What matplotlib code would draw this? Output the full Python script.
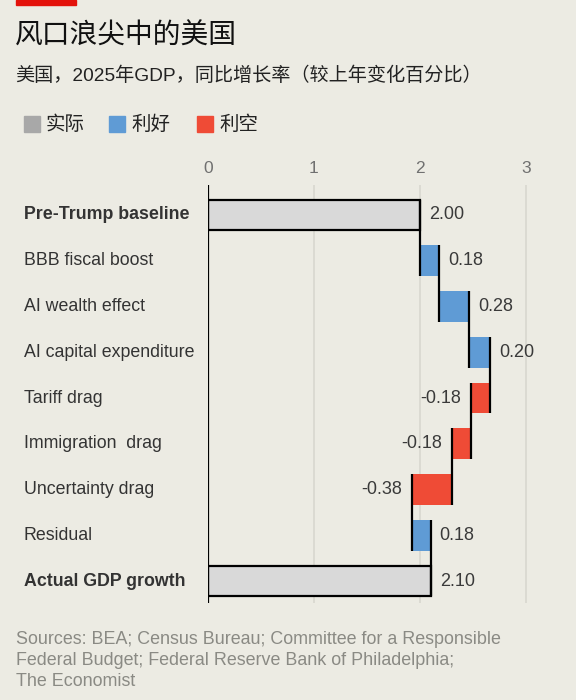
import numpy as np
import matplotlib.pyplot as plt
from matplotlib.patches import Rectangle

# data
categories = ["Pre-Trump baseline", "BBB fiscal boost", "AI wealth effect",
              "AI capital expenditure", "Tariff drag", "Immigration  drag",
              "Uncertainty drag", "Residual", "Actual GDP growth"]
baseline = 2.00
deltas = [0.18, 0.28, 0.20, -0.18, -0.18, -0.38, 0.18]
actual = 2.10
xticks = [0, 1, 2, 3]
legend_labels = ["实际", "利好", "利空"]

bg = "#ecebe3"
c_total = "#d9d9d9"
c_pos = "#5f9bd5"
c_neg = "#ef4b36"
c_leg_total = "#a8a8a8"
txt = "#333333"
LAT = ["Liberation Sans", "Noto Sans CJK SC", "DejaVu Sans"]
CJK = ["Noto Sans CJK SC", "DejaVu Sans"]

fig = plt.figure(figsize=(5.76, 7), dpi=100, facecolor=bg)

W, H = 576, 700
px_unit = 106.2
x0 = 207.7
ax = fig.add_axes([x0 / W, 1 - 603 / H, 3.1 * px_unit / W, (603 - 185) / H])
ax.set_facecolor(bg)

n = len(categories)
ys = np.arange(n)
h = 0.67

# running totals
ends = [baseline]
for d in deltas:
    ends.append(ends[-1] + d)
ends.append(actual)
starts = [0] + ends[:-2] + [0]
vals = [baseline] + deltas + [actual]

for i in range(n):
    if i == 0 or i == n - 1:
        ax.barh(ys[i], vals[i], left=0, height=h, color=c_total,
                edgecolor="black", linewidth=1.6, zorder=3)
    else:
        col = c_pos if vals[i] > 0 else c_neg
        ax.barh(ys[i], vals[i], left=starts[i], height=h, color=col,
                linewidth=0, zorder=3)

# connector lines (edges of the steps)
for i in range(n - 1):
    ax.vlines(ends[i], ys[i] - h / 2, ys[i + 1] + h / 2, color="black",
              linewidth=1.6, zorder=4)

# value labels
for i in range(n):
    v = vals[i]
    if v >= 0:
        xpos = (starts[i] + v) if 0 < i < n - 1 else v
        ax.text(xpos + 0.085, ys[i], f"{v:.2f}", va="center", ha="left",
                fontsize=13, color="#3a3a3a", family=LAT)
    else:
        xpos = starts[i] + v
        ax.text(xpos - 0.09, ys[i], f"{v:.2f}", va="center", ha="right",
                fontsize=13, color="#3a3a3a", family=LAT)

# category labels
for i, c in enumerate(categories):
    bold = i == 0 or i == n - 1
    ax.text(-(x0 - 24) / px_unit, ys[i], c, va="center", ha="left",
            fontsize=12.8, color=txt, family=LAT,
            fontweight="bold" if bold else "normal")

ax.set_ylim(n - 1 + 0.48, -0.655)
ax.set_xlim(0, 3.1)
ax.axvline(0, color="black", linewidth=1.6, zorder=5)
for t in xticks[1:]:
    ax.axvline(t, color="#d8d7cf", linewidth=1.2, zorder=1)
for s in ax.spines.values():
    s.set_visible(False)
ax.set_yticks([])
ax.set_xticks([])
for t in xticks:
    ax.text(t, -0.655 - 0.36, str(t), ha="center", va="center",
            fontsize=12.5, color="#707070", family=LAT)

# header
fig.patches.append(Rectangle((16 / W, 1 - 5 / H), 60 / W, 5 / H,
                             transform=fig.transFigure, color="#e3120b"))
fig.text(15 / W, 1 - 36 / H, "风口浪尖中的美国", fontsize=20, color="#111111",
         family=CJK, va="center", ha="left")
fig.text(15 / W, 1 - 76 / H, "美国，2025年GDP，同比增长率（较上年变化百分比）",
         fontsize=13.8, color="#222222", family=LAT, va="center", ha="left")

leg_cols = [c_leg_total, c_pos, c_neg]
leg_x = [24, 109, 197]
for lx, lc, ll in zip(leg_x, leg_cols, legend_labels):
    fig.patches.append(Rectangle((lx / W, 1 - 132 / H), 16 / W, 16 / H,
                                 transform=fig.transFigure, color=lc))
    fig.text((lx + 22) / W, 1 - 124 / H, ll, fontsize=14, color="#222222",
             family=CJK, va="center", ha="left")

src = ("Sources: BEA; Census Bureau; Committee for a Responsible\n"
       "Federal Budget; Federal Reserve Bank of Philadelphia;\n"
       "The Economist")
fig.text(16 / W, 1 - 631 / H, src, fontsize=12.9, color="#8a8a84", family=LAT,
         va="top", ha="left", linespacing=1.3)

fig.savefig("out.png", dpi=100, facecolor=bg)
